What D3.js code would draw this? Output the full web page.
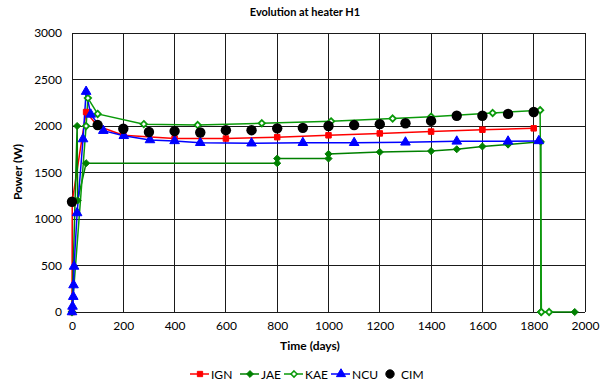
<!DOCTYPE html>
<html><head><meta charset="utf-8">
<script src="https://cdn.jsdelivr.net/npm/d3@7"></script>
<style>body{margin:0;background:#fff}svg{display:block;font-family:Lato,"Open Sans",sans-serif}</style>
</head><body><svg id="c" width="605" height="387"></svg>
<script>
const xTicks=[0,200,400,600,800,1000,1200,1400,1600,1800,2000];
const yTicks=[0,500,1000,1500,2000,2500,3000];
const ignT=[0,1,55,100,200,400,600,800,1000,1200,1400,1600,1800];
const ignV=[0,1190,2150,2000,1900,1865,1865,1880,1900,1920,1940,1960,1975];
const jaeT=[0,20,22,55,800,800,1000,1000,1200,1400,1500,1600,1700,1828,1828,1960];
const jaeV=[0,2000,1200,1600,1600,1650,1650,1700,1720,1730,1750,1780,1800,1830,0,0];
const kaeT=[0,55,62,100,280,490,740,1010,1250,1400,1640,1825,1830,1860];
const kaeV=[0,2000,2300,2130,2020,2010,2030,2050,2080,2100,2140,2170,0,0];
const ncuT=[0,2,5,6,8,20,43,55,73,122,202,304,400,500,700,900,1100,1300,1500,1700,1820];
const ncuV=[0,60,165,290,490,1065,1860,2370,2125,1950,1895,1850,1840,1820,1815,1820,1820,1825,1835,1835,1840];
const cimT=[0,100,200,300,400,500,600,700,800,900,1000,1100,1200,1300,1400,1500,1600,1700,1800];
const cimV=[1185,2010,1970,1935,1945,1930,1955,1955,1975,1980,2000,2010,2020,2030,2055,2110,2110,2130,2150];

const svg=d3.select("#c");
const L=72,R=585,T=33,B=312;
const x=d3.scaleLinear().domain([0,2000]).range([L,R]);
const y=d3.scaleLinear().domain([0,3000]).range([B,T]);

// grid
const g=svg.append("g");
g.selectAll("line.v").data(xTicks).join("line").attr("x1",d=>x(d)).attr("x2",d=>x(d)).attr("y1",T).attr("y2",B).attr("stroke","#1a1a1a").attr("stroke-width",1).attr("shape-rendering","crispEdges");
g.selectAll("line.h").data(yTicks).join("line").attr("y1",d=>y(d)).attr("y2",d=>y(d)).attr("x1",L).attr("x2",R).attr("stroke","#1a1a1a").attr("stroke-width",1).attr("shape-rendering","crispEdges");

// axes
const fmt=d3.format("d");
const xa=svg.append("g").attr("transform",`translate(0,${B})`).call(d3.axisBottom(x).tickValues(xTicks).tickFormat(fmt).tickSize(0).tickPadding(9));
const ya=svg.append("g").attr("transform",`translate(${L},0)`).call(d3.axisLeft(y).tickValues(yTicks).tickFormat(fmt).tickSize(0).tickPadding(10));
[xa,ya].forEach(a=>{a.select(".domain").remove();a.selectAll("text").attr("font-size",12).attr("fill","#000").attr("font-family","Lato,'Open Sans',sans-serif");});

const pts=(t,v)=>t.map((d,i)=>[d,v[i]]);
const line=d3.line().x(d=>x(d[0])).y(d=>y(d[1]));
const series=[
 {name:"IGN",data:pts(ignT,ignV),color:"#ff0000",sym:d3.symbolSquare,fill:"#ff0000",size:30},
 {name:"JAE",data:pts(jaeT,jaeV),color:"#008000",sym:d3.symbolDiamond2,fill:"#008000",size:32},
 {name:"KAE",data:pts(kaeT,kaeV),color:"#0a9a0a",sym:d3.symbolDiamond2,fill:"#fff",size:26},
 {name:"NCU",data:pts(ncuT,ncuV),color:"#0000ff",sym:d3.symbolTriangle,fill:"#0000ff",size:40}
];
const plot=svg.append("g");
series.forEach(s=>{
 plot.append("path").datum(s.data).attr("d",line).attr("fill","none").attr("stroke",s.color).attr("stroke-width",1.5);
});
series.forEach(s=>{
 plot.selectAll(null).data(s.data).join("path").attr("d",d3.symbol(s.sym,s.size)).attr("transform",d=>`translate(${x(d[0])},${y(d[1])})`).attr("fill",s.fill).attr("stroke",s.color).attr("stroke-width",s.fill==="#fff"?1.8:1);
});
plot.selectAll(null).data(pts(cimT,cimV)).join("circle").attr("cx",d=>x(d[0])).attr("cy",d=>y(d[1])).attr("r",5.2).attr("fill","#000");

// titles
svg.append("text").attr("x",305).attr("y",16).attr("text-anchor","middle").attr("font-size",11).attr("font-weight","bold").text("Evolution at heater H1");
svg.append("text").attr("x",310).attr("y",350).attr("text-anchor","middle").attr("font-size",12).attr("font-weight","bold").text("Time (days)");
svg.append("text").attr("transform","translate(22,172) rotate(-90)").attr("text-anchor","middle").attr("font-size",12).attr("font-weight","bold").text("Power (W)");

// legend
const lg=svg.append("g").attr("font-size",12);
const items=[
 {name:"IGN",x0:190,color:"#ff0000",sym:d3.symbolSquare,fill:"#ff0000",size:28,line:true},
 {name:"JAE",x0:240,color:"#008000",sym:d3.symbolDiamond2,fill:"#008000",size:30,line:true},
 {name:"KAE",x0:284,color:"#0a9a0a",sym:d3.symbolDiamond2,fill:"#fff",size:24,line:true},
 {name:"NCU",x0:331,color:"#0000ff",sym:d3.symbolTriangle,fill:"#0000ff",size:36,line:true},
 {name:"CIM",x0:380,color:"#000",sym:d3.symbolCircle,fill:"#000",size:55,line:false}
];
const ly=374;
items.forEach(it=>{
 if(it.line) lg.append("line").attr("x1",it.x0).attr("x2",it.x0+19).attr("y1",ly).attr("y2",ly).attr("stroke",it.color).attr("stroke-width",1.5);
 lg.append("path").attr("d",d3.symbol(it.sym,it.size)).attr("transform",`translate(${it.x0+10},${ly})`).attr("fill",it.fill).attr("stroke",it.color).attr("stroke-width",it.fill==="#fff"?1.5:1);
 lg.append("text").attr("x",it.x0+21).attr("y",ly+4.5).text(it.name);
});
</script></body></html>
